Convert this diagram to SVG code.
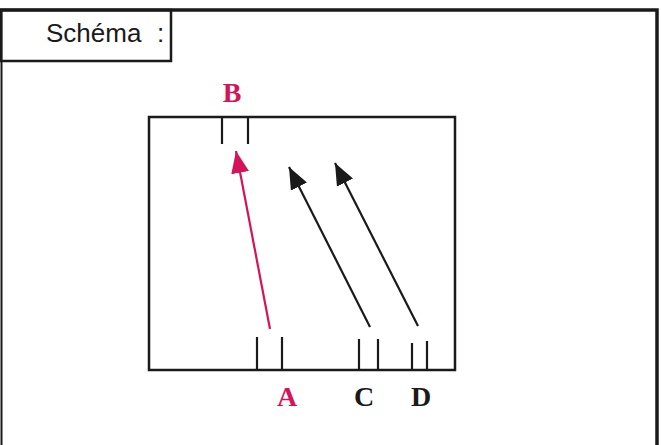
<svg xmlns="http://www.w3.org/2000/svg" width="661" height="445" viewBox="0 0 661 445">
<style>
.frame{fill:none;stroke:#1a1a1a;stroke-width:2.5}
.tick{stroke:#1a1a1a;stroke-width:2.2}
.lbl{font-family:"Liberation Serif",serif;font-weight:bold;font-size:28px;text-anchor:middle}
.blk{fill:#1a1a1a}
.red{fill:#d4145a}
</style>
<defs>
<marker id="ahB" markerWidth="24" markerHeight="18" refX="22" refY="9" orient="auto" markerUnits="userSpaceOnUse"><path d="M0,0 L22,9 L0,18 Z" fill="#1a1a1a"/></marker>
<marker id="ahR" markerWidth="24" markerHeight="18" refX="22" refY="9" orient="auto" markerUnits="userSpaceOnUse"><path d="M0,0 L22,9 L0,18 Z" fill="#d4145a"/></marker>
</defs>
<rect width="661" height="445" fill="#fff"/>
<g id="outer">
<path d="M0,10 L657,10 L657,445" fill="none" stroke="#1a1a1a" stroke-width="3.5"/>
<path d="M1.5,10 L1.5,445" fill="none" stroke="#1a1a1a" stroke-width="2"/>
</g>
<g id="title">
<rect x="1" y="10" width="170" height="51" class="frame"/>
<text x="46" y="42" font-family="Liberation Sans,Arial,sans-serif" font-size="26" fill="#1a1a1a">Schéma</text>
<text x="157" y="42" font-family="Liberation Sans,Arial,sans-serif" font-size="26" fill="#1a1a1a">:</text>
</g>
<g id="cell">
<rect x="149" y="117" width="306" height="253" class="frame"/>
<line x1="222" y1="117" x2="222" y2="144" class="tick"/>
<line x1="248" y1="117" x2="248" y2="144" class="tick"/>
<line x1="257" y1="337" x2="257" y2="370" class="tick"/>
<line x1="282" y1="337" x2="282" y2="370" class="tick"/>
<line x1="359" y1="339" x2="359" y2="370" class="tick"/>
<line x1="378" y1="339" x2="378" y2="370" class="tick"/>
<line x1="412" y1="343" x2="412" y2="370" class="tick"/>
<line x1="427" y1="341" x2="427" y2="370" class="tick"/>
</g>
<g id="labels">
<text x="232" y="102" class="lbl red">B</text>
<text x="287" y="406" class="lbl red">A</text>
<text x="364" y="406" class="lbl blk">C</text>
<text x="421" y="406" class="lbl blk">D</text>
</g>
<g id="connectors">
<line x1="270" y1="329" x2="236" y2="151" stroke="#d4145a" stroke-width="2.2" marker-end="url(#ahR)"/>
<line x1="370" y1="327" x2="289" y2="167" stroke="#1a1a1a" stroke-width="2.2" marker-end="url(#ahB)"/>
<line x1="418" y1="326" x2="335" y2="163" stroke="#1a1a1a" stroke-width="2.2" marker-end="url(#ahB)"/>
</g>
</svg>
